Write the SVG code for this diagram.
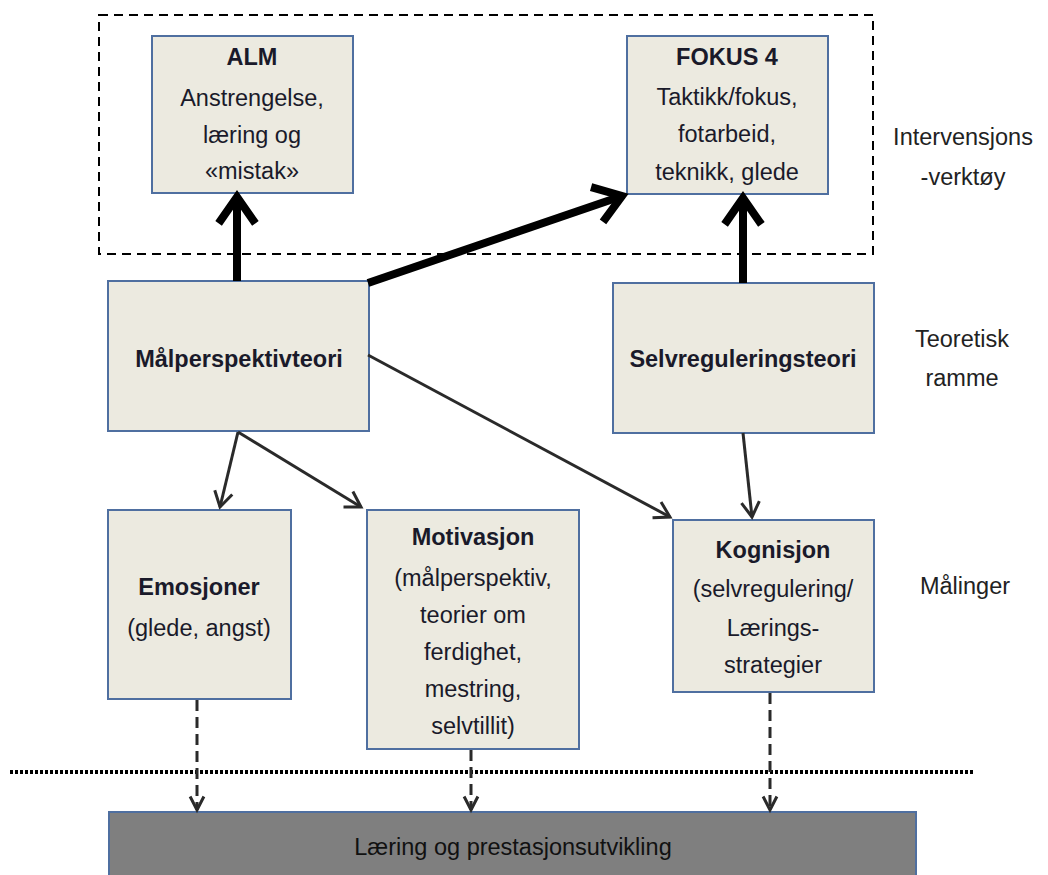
<svg xmlns="http://www.w3.org/2000/svg" width="1048" height="875" viewBox="0 0 1048 875">
<defs>
<style>
.box{fill:#ECEAE0;stroke:#4F6FA0;stroke-width:2}
.t{font-family:"Liberation Sans",Arial,sans-serif;font-size:23.5px;fill:#1a1a2a;text-anchor:middle}
.b{font-weight:bold}
.thick{stroke:#000;stroke-width:8;fill:none}
.thin{stroke:#2a2a2a;stroke-width:3;fill:none}
.dash{stroke:#2a2a2a;stroke-width:3;fill:none;stroke-dasharray:11,6}
</style>
<marker id="ah" viewBox="-4 -3 5 6" refX="0" refY="0" markerWidth="5" markerHeight="6" orient="auto" markerUnits="strokeWidth" overflow="visible">
<path d="M-3.3,-2.3 L0,0 L-3.3,2.3" fill="none" stroke="#000" stroke-width="1" stroke-linejoin="miter"/>
</marker>
<marker id="as" viewBox="-6 -4 7 8" refX="0" refY="0" markerWidth="7" markerHeight="8" orient="auto" markerUnits="strokeWidth" overflow="visible">
<path d="M-5,-3 L0,0 L-5,3" fill="none" stroke="#2a2a2a" stroke-width="1"/>
</marker>
<marker id="ad" viewBox="-6 -4 7 8" refX="0" refY="0" markerWidth="7" markerHeight="8" orient="auto" markerUnits="strokeWidth" overflow="visible">
<path d="M-4.5,-2.3 L0,0 L-4.5,2.3" fill="none" stroke="#2a2a2a" stroke-width="1"/>
</marker>
</defs>
<rect width="1048" height="875" fill="#fff"/>

<g id="intervention-frame">
<rect x="99" y="15" width="774" height="239" fill="none" stroke="#000" stroke-width="2" stroke-dasharray="9,6"/>
</g>
<g id="separator">
<line x1="10" y1="772" x2="973" y2="772" stroke="#000" stroke-width="4" stroke-dasharray="3,2"/>
</g>

<g id="alm">
<rect class="box" x="152" y="36" width="201" height="157"/>
<text class="t b" x="252" y="65">ALM</text>
<text class="t" x="252" y="106">Anstrengelse,</text>
<text class="t" x="252" y="143">læring og</text>
<text class="t" x="252" y="179">«mistak»</text>
</g>
<g id="fokus4">
<rect class="box" x="627" y="36" width="201" height="158"/>
<text class="t b" x="727" y="65">FOKUS 4</text>
<text class="t" x="727" y="105">Taktikk/fokus,</text>
<text class="t" x="727" y="142">fotarbeid,</text>
<text class="t" x="727" y="180">teknikk, glede</text>
</g>
<g id="malperspektivteori">
<rect class="box" x="108" y="281" width="261" height="150"/>
<text class="t b" x="239" y="367">Målperspektivteori</text>
</g>
<g id="selvreguleringsteori">
<rect class="box" x="613" y="283" width="261" height="150"/>
<text class="t b" x="743" y="367">Selvreguleringsteori</text>
</g>
<g id="emosjoner">
<rect class="box" x="108" y="510" width="183" height="189"/>
<text class="t b" x="199" y="595">Emosjoner</text>
<text class="t" x="199" y="636">(glede, angst)</text>
</g>
<g id="motivasjon">
<rect class="box" x="367" y="510" width="212" height="239"/>
<text class="t b" x="473" y="545">Motivasjon</text>
<text class="t" x="473" y="586">(målperspektiv,</text>
<text class="t" x="473" y="623">teorier om</text>
<text class="t" x="473" y="660">ferdighet,</text>
<text class="t" x="473" y="697">mestring,</text>
<text class="t" x="473" y="734">selvtillit)</text>
</g>
<g id="kognisjon">
<rect class="box" x="673" y="520" width="201" height="172"/>
<text class="t b" x="773" y="558">Kognisjon</text>
<text class="t" x="773" y="597">(selvregulering/</text>
<text class="t" x="773" y="636">Lærings-</text>
<text class="t" x="773" y="673">strategier</text>
</g>
<g id="laering">
<rect x="109" y="812" width="807" height="70" fill="#7F7F7F" stroke="#4F6FA0" stroke-width="2"/>
<text class="t" x="513" y="855" style="fill:#111">Læring og prestasjonsutvikling</text>
</g>

<g id="labels">
<text class="t" x="963" y="145" style="fill:#222">Intervensjons</text>
<text class="t" x="963" y="185" style="fill:#222">-verktøy</text>
<text class="t" x="962" y="347" style="fill:#222">Teoretisk</text>
<text class="t" x="962" y="386" style="fill:#222">ramme</text>
<text class="t" x="965" y="594" style="fill:#222">Målinger</text>
</g>

<g id="connectors">
<line class="thick" x1="237" y1="281" x2="237" y2="197" marker-end="url(#ah)"/>
<line class="thick" x1="743" y1="283" x2="743" y2="198" marker-end="url(#ah)"/>
<line class="thick" x1="368" y1="283" x2="622" y2="196" marker-end="url(#ah)"/>
<line class="thin" x1="238" y1="432" x2="220" y2="507" marker-end="url(#as)"/>
<line class="thin" x1="238" y1="432" x2="361" y2="507" marker-end="url(#as)"/>
<line class="thin" x1="368" y1="355" x2="670" y2="517" marker-end="url(#as)"/>
<line class="thin" x1="743" y1="433" x2="752" y2="517" marker-end="url(#as)"/>
<line class="dash" x1="197" y1="700" x2="197" y2="810" marker-end="url(#ad)"/>
<line class="dash" x1="471" y1="750" x2="471" y2="810" marker-end="url(#ad)"/>
<line class="dash" x1="770" y1="693" x2="770" y2="810" marker-end="url(#ad)"/>
</g>
</svg>
